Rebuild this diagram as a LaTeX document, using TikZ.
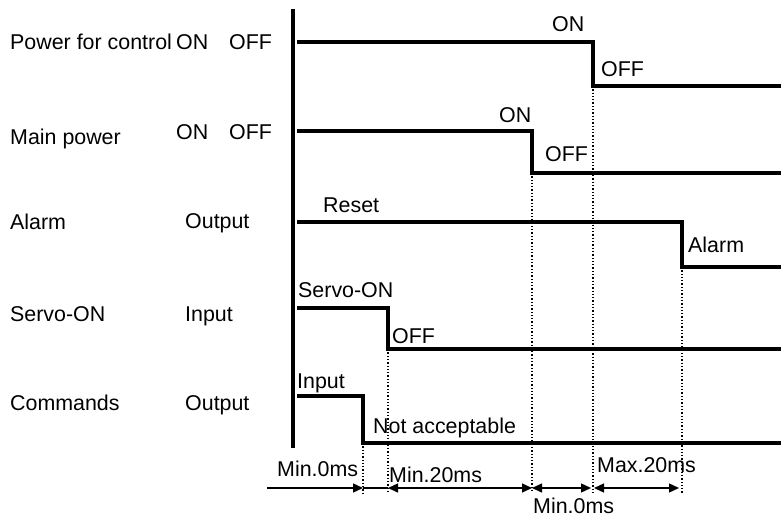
\documentclass[tikz,border=0pt]{standalone}
\usepackage{fontspec}
\setmainfont{Liberation Sans}
\usetikzlibrary{arrows.meta}

\begin{document}
\begin{tikzpicture}[
  x=1pt,y=-1pt,
  font=\fontsize{21.4}{25}\selectfont,
  >={Triangle[length=10pt,width=9pt]},
  sig/.style={line width=4pt},
  ax/.style={line width=4pt},
  vgrid/.style={dotted,line width=1.3pt},
  dimn/.style={line width=1.3pt},
  lab/.style={anchor=base west,inner sep=0pt}
]
\useasboundingbox (0,0) rectangle (781,518);

% parametri de desen (coordonate in pixeli ai figurii)
\def\xs{297}     % inceputul formelor de unda
\def\xe{781}     % capatul din dreapta
\def\yd{488}     % linia cotelor de timp
\def\yg{493}     % capatul de jos al liniilor punctate

% --- forma de unda cu un front descrescator ---
% #1 = nume, #2 = y sus, #3 = x front, #4 = y jos
\newcommand{\fallrow}[4]{
  \coordinate (#1H) at (\xs,#2);
  \coordinate (#1T) at (#3,#2);
  \coordinate (#1B) at (#3,#4);
  \coordinate (#1E) at (\xe,#4);
  \draw[sig] (#1H) -- (#1T) -- (#1B) -- (#1E);
  \coordinate (#1G) at (#3,\yg);
  \draw[vgrid] (#1B) -- (#1G);                      % linie punctata
}

% axa verticala
\coordinate (axT) at (293,9);
\coordinate (axB) at (293,448);
\draw[ax] (axT) -- (axB);

% cele cinci semnale
\fallrow{pc}{42}{593}{86}
\fallrow{mp}{131}{532}{173}
\fallrow{al}{222}{682}{267}
\fallrow{sv}{308}{388}{349}
\fallrow{cm}{396}{363}{443}

% etichete stanga
\node[lab] (pcName) at (10,50)  {Power for control};
\node[lab] (pcOn)   at (176,50) {ON};
\node[lab] (pcOff)  at (229,50) {OFF};
\node[lab] (mpName) at (10,145) {Main power};
\node[lab] (mpOn)   at (176,140) {ON};
\node[lab] (mpOff)  at (229,140) {OFF};
\node[lab] (alName) at (10,230) {Alarm};
\node[lab] (alDir)  at (185,229) {Output};
\node[lab] (svName) at (10,322) {Servo-ON};
\node[lab] (svDir)  at (185,322) {Input};
\node[lab] (cmName) at (10,410) {Commands};
\node[lab] (cmDir)  at (185,410) {Output};

% etichete pe forme de unda
\node[lab] (pcHi) at (552,32)  {ON};
\node[lab] (pcLo) at (601,77)  {OFF};
\node[lab] (mpHi) at (499,123) {ON};
\node[lab] (mpLo) at (545,162) {OFF};
\node[lab] (alHi) at (323,213) {Reset};
\node[lab] (alLo) at (688,253) {Alarm};
\node[lab] (svHi) at (298,298) {Servo-ON};
\node[lab] (svLo) at (392,343) {OFF};
\node[lab] (cmHi) at (297,388) {Input};
\node[lab] (cmLo) at (373,433) {Not acceptable};

% cote de timp
\coordinate (dStart) at (267,\yd);
\coordinate (d1) at (363,\yd);
\coordinate (d2) at (388,\yd);
\coordinate (d3) at (532,\yd);
\coordinate (d4) at (593,\yd);
\coordinate (d5) at (679,\yd);
\draw[dimn,->] (dStart) -- (d1);
\draw[dimn] (d1) -- (d2);
\draw[dimn,<->] (d2) -- (d3);
\draw[dimn,<->] (d3) -- ([xshift=-2pt]d4);
\draw[dimn,<->] ([xshift=1pt]d4) -- (d5);
\node[lab] (tA) at (277,476) {Min.0ms};
\node[lab] (tB) at (389,482) {Min.20ms};
\node[lab] (tC) at (533,513) {Min.0ms};
\node[lab] (tD) at (597,472) {Max.20ms};

\end{tikzpicture}
\end{document}
